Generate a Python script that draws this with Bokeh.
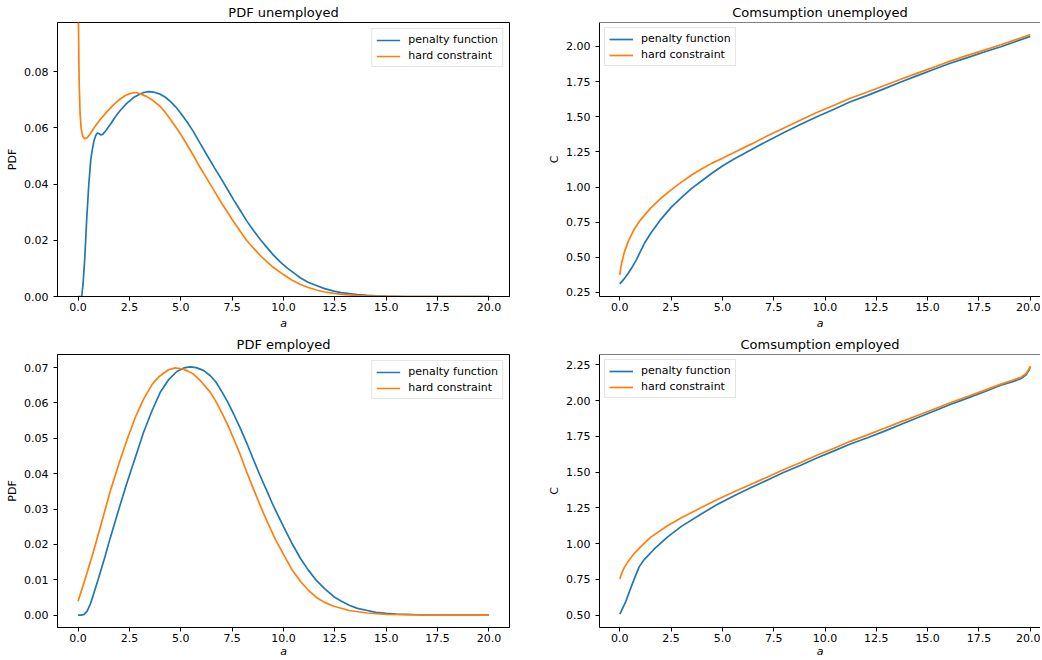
from bokeh.plotting import figure
from bokeh.layouts import row, column
from bokeh.models import FixedTicker, NumeralTickFormatter, Range1d, Span
from bokeh.embed import file_html
from bokeh.resources import INLINE

# ---------------- data ----------------
titles = ["PDF unemployed", "Comsumption unemployed", "PDF employed", "Comsumption employed"]
series_names = ["penalty function", "hard constraint"]

# PDF unemployed
x_pdf_u_pen = [0.0, 0.1, 0.18, 0.25, 0.33, 0.42, 0.52, 0.62, 0.7, 0.78, 0.86, 0.94, 1.02, 1.1, 1.2, 1.35,
               1.56, 1.8, 2.05, 2.37, 2.7, 3.0, 3.2, 3.43, 3.7, 4.0, 4.25, 4.49, 4.75, 5.0, 5.3, 5.63, 5.95,
               6.3, 6.65, 7.0, 7.3, 7.58, 7.9, 8.2, 8.55, 8.88, 9.2, 9.5, 9.85, 10.2, 10.5, 10.83, 11.2,
               11.6, 12.0, 12.45, 12.8, 13.2, 13.6, 14.08, 14.5, 15.0, 16.0, 17.0, 18.0, 19.0, 20.0]
y_pdf_u_pen = [0.0, 0.0, 0.0, 0.005, 0.014, 0.0273, 0.0395, 0.0487, 0.0525, 0.0555, 0.0573, 0.0582, 0.0580,
               0.0575, 0.0577, 0.0590, 0.0611, 0.0638, 0.0662, 0.0687, 0.0708, 0.0720, 0.0726, 0.0729, 0.0727,
               0.0720, 0.0709, 0.0694, 0.0675, 0.0652, 0.0622, 0.0585, 0.0544, 0.0500, 0.0457, 0.0415,
               0.0378, 0.0343, 0.0306, 0.0270, 0.0234, 0.0202, 0.0174, 0.0148, 0.0122, 0.0100, 0.0084,
               0.0066, 0.0051, 0.0039, 0.0028, 0.0019, 0.0014, 0.0010, 0.0007, 0.0004, 0.0002, 0.0001,
               0.0, 0.0, 0.0, 0.0, 0.0]
x_pdf_u_hard = [0.0, 0.01, 0.02, 0.04, 0.06, 0.1, 0.15, 0.23, 0.34, 0.45, 0.6, 0.8, 1.07, 1.4, 1.72, 2.0, 2.3,
                2.5, 2.7, 2.85, 3.0, 3.3, 3.6, 4.0, 4.25, 4.5, 4.75, 5.0, 5.3, 5.63, 5.95, 6.3, 6.65, 7.0,
                7.3, 7.58, 7.9, 8.2, 8.55, 8.88, 9.2, 9.5, 10.0, 10.4, 10.83, 11.2, 11.6, 12.0, 12.45, 13.0,
                13.5, 14.0, 14.5, 15.5, 16.5, 17.5, 18.5, 19.5, 20.0]
y_pdf_u_hard = [0.3, 0.15, 0.098, 0.083, 0.0747, 0.065, 0.0598, 0.0569, 0.0561, 0.0565, 0.0580, 0.0602,
                0.0629, 0.0657, 0.0682, 0.0700, 0.0715, 0.0721, 0.0725, 0.0725, 0.0722, 0.0713, 0.0700,
                0.0676, 0.0655, 0.0630, 0.0604, 0.0577, 0.0541, 0.0500, 0.0458, 0.0416, 0.0373, 0.0331,
                0.0297, 0.0265, 0.0231, 0.0200, 0.0171, 0.0145, 0.0123, 0.0104, 0.0078, 0.0059, 0.0043,
                0.0032, 0.0023, 0.0016, 0.0011, 0.0007, 0.0004, 0.0002, 0.0001, 0.0, 0.0, 0.0, 0.0, 0.0, 0.0]

# Consumption unemployed
x_c_u_pen = [0.0, 0.2, 0.4, 0.6, 0.8, 1.0, 1.2, 1.5, 2.0, 2.5, 3.0, 3.5, 4.0, 4.5, 5.0, 5.57, 6.4, 7.2, 8.0,
             8.82, 9.6, 10.44, 11.2, 12.07, 12.9, 13.69, 14.5, 15.32, 16.1, 16.94, 17.8, 18.57, 19.3, 20.0]
y_c_u_pen = [0.311, 0.345, 0.385, 0.43, 0.48, 0.54, 0.60, 0.67, 0.77, 0.855, 0.925, 0.99, 1.045, 1.10, 1.15,
             1.20, 1.265, 1.328, 1.388, 1.447, 1.50, 1.553, 1.605, 1.652, 1.70, 1.747, 1.792, 1.837, 1.88,
             1.920, 1.962, 1.998, 2.035, 2.071]
x_c_u_hard = [0.0, 0.05, 0.1, 0.21, 0.4, 0.7, 1.0, 1.5, 2.0, 2.5, 3.0, 3.5, 4.0, 4.5, 5.0, 5.57, 6.4, 7.2,
              8.0, 8.82, 9.6, 10.44, 11.2, 12.07, 12.9, 13.69, 14.5, 15.32, 16.1, 16.94, 17.8, 18.57, 19.3,
              20.0]
y_c_u_hard = [0.375, 0.43, 0.465, 0.53, 0.61, 0.70, 0.765, 0.85, 0.92, 0.98, 1.035, 1.085, 1.13, 1.17,
              1.205, 1.246, 1.305, 1.364, 1.42, 1.477, 1.53, 1.581, 1.63, 1.676, 1.722, 1.766, 1.81, 1.853,
              1.895, 1.936, 1.975, 2.012, 2.048, 2.085]

# PDF employed
x_pdf_e_pen = [0.0, 0.15, 0.3, 0.45, 0.6, 0.75, 1.0, 1.3, 1.56, 2.0, 2.37, 2.8, 3.19, 3.6, 4.0, 4.4, 4.81,
               5.15, 5.46, 5.75, 6.1, 6.44, 6.7, 7.0, 7.3, 7.58, 7.9, 8.2, 8.5, 8.88, 9.2, 9.5, 10.0, 10.4,
               10.83, 11.2, 11.6, 12.0, 12.45, 12.8, 13.2, 13.6, 14.08, 14.5, 15.0, 15.5, 16.0, 16.5, 17.0,
               18.0, 19.0, 20.0]
y_pdf_e_pen = [0.0, 0.0, 0.0002, 0.0012, 0.0032, 0.0058, 0.0105, 0.0163, 0.0217, 0.0302, 0.0372, 0.0448,
               0.0517, 0.0578, 0.0630, 0.0665, 0.0689, 0.0699, 0.0702, 0.0700, 0.0692, 0.0677, 0.0660,
               0.0632, 0.0601, 0.0568, 0.0528, 0.0488, 0.0445, 0.0392, 0.0350, 0.0310, 0.0250, 0.0204,
               0.0160, 0.0128, 0.0098, 0.0075, 0.0052, 0.0040, 0.0028, 0.0019, 0.0013, 0.0008, 0.0005,
               0.0003, 0.0002, 0.0001, 0.0, 0.0, 0.0, 0.0]
x_pdf_e_hard = [0.0, 0.2, 0.45, 0.75, 1.1, 1.56, 2.0, 2.37, 2.8, 3.19, 3.6, 3.8, 4.0, 4.4, 4.73, 5.1, 5.35,
                5.63, 6.0, 6.44, 6.7, 7.0, 7.3, 7.58, 7.9, 8.2, 8.5, 8.88, 9.2, 9.6, 10.0, 10.4, 10.83, 11.2,
                11.6, 12.0, 12.45, 13.2, 14.08, 15.0, 16.0, 17.0, 18.0, 19.0, 20.0]
y_pdf_e_hard = [0.0039, 0.0075, 0.0122, 0.0180, 0.0252, 0.0349, 0.0430, 0.0494, 0.0561, 0.0611, 0.0652,
                0.0666, 0.0677, 0.0694, 0.0699, 0.0696, 0.0690, 0.0681, 0.0660, 0.0630, 0.0605, 0.0572,
                0.0536, 0.0498, 0.0453, 0.0406, 0.0362, 0.0308, 0.0265, 0.0215, 0.0172, 0.0130, 0.0095,
                0.0071, 0.0050, 0.0036, 0.0025, 0.0013, 0.0006, 0.0002, 0.0001, 0.0, 0.0, 0.0, 0.0]

# Consumption employed
x_c_e_pen = [0.0, 0.29, 0.62, 0.94, 1.19, 1.68, 2.32, 3.0, 3.95, 4.7, 5.57, 6.4, 7.2, 8.0, 8.82, 9.6, 10.44,
             11.2, 12.07, 12.9, 13.69, 14.5, 15.32, 16.1, 16.94, 17.8, 18.57, 19.1, 19.55, 19.8, 19.95, 20.0]
y_c_e_pen = [0.507, 0.594, 0.722, 0.837, 0.888, 0.962, 1.045, 1.12, 1.205, 1.27, 1.335, 1.392, 1.445, 1.498,
             1.548, 1.598, 1.648, 1.694, 1.740, 1.786, 1.832, 1.88, 1.927, 1.972, 2.017, 2.063, 2.107, 2.13,
             2.153, 2.18, 2.215, 2.235]
x_c_e_hard = [0.0, 0.1, 0.21, 0.4, 0.7, 1.0, 1.51, 2.32, 3.0, 3.95, 4.7, 5.57, 6.4, 7.2, 8.0, 8.82, 9.6,
              10.44, 11.2, 12.07, 12.9, 13.69, 14.5, 15.32, 16.1, 16.94, 17.8, 18.57, 19.1, 19.55, 19.8,
              19.95, 20.0]
y_c_e_hard = [0.752, 0.795, 0.83, 0.875, 0.93, 0.975, 1.045, 1.125, 1.18, 1.25, 1.305, 1.362, 1.415, 1.466,
              1.518, 1.567, 1.617, 1.666, 1.713, 1.760, 1.806, 1.851, 1.896, 1.941, 1.985, 2.028, 2.073,
              2.115, 2.14, 2.163, 2.19, 2.222, 2.242]

x_ticks = [0.0, 2.5, 5.0, 7.5, 10.0, 12.5, 15.0, 17.5, 20.0]
y_ticks_pdf_u = [0.00, 0.02, 0.04, 0.06, 0.08]
y_ticks_c_u = [0.25, 0.50, 0.75, 1.00, 1.25, 1.50, 1.75, 2.00]
y_ticks_pdf_e = [0.00, 0.01, 0.02, 0.03, 0.04, 0.05, 0.06, 0.07]
y_ticks_c_e = [0.50, 0.75, 1.00, 1.25, 1.50, 1.75, 2.00, 2.25]

# ---------------- styling ----------------
FONT = "DejaVu Sans"
BLUE = "#1f77b4"
ORANGE = "#ff7f0e"


def make(title, xs, ys, x_rng, y_rng, yticks, ylabel, legend_loc, width, height,
         bl, br, bt, bb, right_side, xl_std=3):
    p = figure(width=width, height=height, x_range=Range1d(*x_rng), y_range=Range1d(*y_rng),
               output_backend="svg", toolbar_location=None, title=title,
               min_border_left=bl, min_border_right=br, min_border_top=bt, min_border_bottom=bb,
               background_fill_color="white", border_fill_color="white")
    for x, y, c, name in zip(xs, ys, [BLUE, ORANGE], series_names):
        p.line(x, y, line_color=c, line_width=1.7, legend_label=name)
    p.xgrid.visible = False
    p.ygrid.visible = False
    p.title.text_font = FONT
    p.title.text_font_size = "13px"
    p.title.text_font_style = "normal"
    p.title.text_color = "black"
    p.title.align = "center"
    p.title.standoff = 5
    if right_side:
        p.title.offset = 5
        p.outline_line_color = None
        p.add_layout(Span(location=y_rng[1], dimension="width", line_color="black", line_width=1))
    else:
        p.outline_line_color = "black"
        p.outline_line_width = 1
    for ax in p.axis:
        ax.axis_line_color = "black"
        ax.axis_line_width = 1
        ax.major_tick_line_color = "black"
        ax.major_tick_out = 4
        ax.major_tick_in = 0
        ax.minor_tick_out = 0
        ax.minor_tick_in = 0
        ax.major_label_text_font = FONT
        ax.major_label_text_font_size = "11px"
        ax.major_label_text_color = "black"
        ax.axis_label_text_font = FONT
        ax.axis_label_text_font_size = "11px"
        ax.axis_label_text_color = "black"
    p.xaxis.ticker = FixedTicker(ticks=x_ticks, minor_ticks=[])
    p.xaxis.formatter = NumeralTickFormatter(format="0.0")
    p.xaxis.axis_label = "a"
    p.xaxis.axis_label_text_font_style = "italic"
    p.xaxis.major_label_standoff = 2
    p.xaxis.axis_label_standoff = xl_std
    p.yaxis.ticker = FixedTicker(ticks=yticks, minor_ticks=[])
    p.yaxis.formatter = NumeralTickFormatter(format="0.00")
    p.yaxis.axis_label = ylabel
    p.yaxis.axis_label_text_font_style = "normal"
    p.yaxis.major_label_standoff = 5
    p.yaxis.axis_label_standoff = 2

    lg = p.legend[0]
    lg.location = legend_loc
    lg.margin = 6 if not right_side else 5
    lg.padding = 4
    lg.spacing = 3
    lg.glyph_width = 24
    lg.glyph_height = 12
    lg.label_height = 12
    lg.label_standoff = 8
    lg.label_text_font = FONT
    lg.label_text_font_size = "11px"
    lg.label_text_color = "black"
    lg.border_line_color = "#cccccc"
    lg.border_line_width = 1
    lg.background_fill_alpha = 0.8
    return p


# page has no margin in Bokeh's template: layout starts at (0, 0)
W1, W2 = 539, 501
H1, H2 = 332, 328

p1 = make(titles[0], [x_pdf_u_pen, x_pdf_u_hard], [y_pdf_u_pen, y_pdf_u_hard], (-1.0, 21.0), (0.0, 0.0975),
          y_ticks_pdf_u, "PDF", "top_right", W1, H1, 57, 30, 22, 35, False)
p2 = make(titles[1], [x_c_u_pen, x_c_u_hard], [y_c_u_pen, y_c_u_hard], (-0.99, 20.5), (0.2215, 2.17),
          y_ticks_c_u, "C", "top_left", W2, H1, 60, 0, 22, 35, True)
p3 = make(titles[2], [x_pdf_e_pen, x_pdf_e_hard], [y_pdf_e_pen, y_pdf_e_hard], (-1.0, 21.0), (-0.0035, 0.0737),
          y_ticks_pdf_e, "PDF", "top_right", W1, H2, 57, 30, 18, 32, False, xl_std=0)
p4 = make(titles[3], [x_c_e_pen, x_c_e_hard], [y_c_e_pen, y_c_e_hard], (-0.99, 20.5), (0.413, 2.322),
          y_ticks_c_e, "C", "top_left", W2, H2, 60, 0, 18, 32, True, xl_std=0)

layout = column(row(p1, p2), row(p3, p4))
open("out.html", "w").write(file_html(layout, INLINE))
